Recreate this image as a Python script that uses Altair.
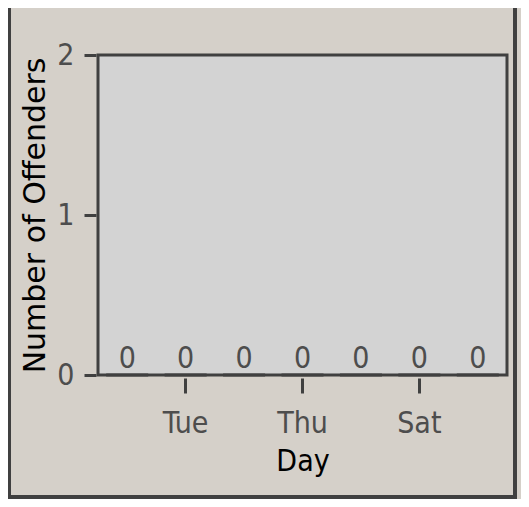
import altair as alt
import pandas as pd

days = ["Mon", "Tue", "Wed", "Thu", "Fri", "Sat", "Sun"]
offenders = [0, 0, 0, 0, 0, 0, 0]
x_tick_labels = ["Tue", "Thu", "Sat"]
y_max = 2

df = pd.DataFrame({"Day": days, "Offenders": offenders})

NARROW = "Liberation Sans Narrow, DejaVu Sans Condensed, sans-serif"
DARK = "#404040"
GREY_TXT = "#4d4d4d"

x_enc = alt.X(
    "Day:N",
    sort=days,
    scale=alt.Scale(paddingInner=0.28, paddingOuter=0.14),
    axis=alt.Axis(
        values=x_tick_labels,
        title="Day",
        labelAngle=0,
        domain=False,
        offset=3,
        tickSize=15,
        tickWidth=3,
        tickColor=DARK,
        labelFont=NARROW,
        labelFontSize=30,
        labelColor=GREY_TXT,
        labelPadding=15,
        titleFont=NARROW,
        titleFontSize=30,
        titleFontWeight="normal",
        titleColor="#000000",
        titlePadding=8,
    ),
)

y_enc = alt.Y(
    "Offenders:Q",
    scale=alt.Scale(domain=[0, y_max], nice=False),
    axis=alt.Axis(
        tickCount=2,
        format="d",
        title="Number of Offenders",
        grid=False,
        domain=False,
        offset=2,
        tickSize=12,
        tickWidth=3,
        tickColor=DARK,
        labelFont=NARROW,
        labelFontSize=30,
        labelColor=GREY_TXT,
        labelPadding=10,
        labelBaseline="middle",
        labelOverlap=False,
        titleFont="DejaVu Sans",
        titleFontSize=30,
        titleFontWeight="normal",
        titleColor="#000000",
        titlePadding=6,
    ),
)

bars = alt.Chart(df).mark_bar(
    size=42, color=DARK, stroke=DARK, strokeWidth=3
).encode(x=x_enc, y=y_enc)

labels = alt.Chart(df).mark_text(
    font=NARROW, fontSize=30, color=GREY_TXT, baseline="alphabetic", dy=-7
).encode(x=x_enc, y=y_enc, text="Offenders:Q")

frame_left = alt.Chart(df).mark_rule(color=DARK, strokeWidth=3, clip=False).encode(
    x=alt.value(-88.5), y=alt.value(-47), y2=alt.value(444)
)
frame_right = alt.Chart(df).mark_rule(color=DARK, strokeWidth=3, clip=False).encode(
    x=alt.value(417), y=alt.value(-47), y2=alt.value(444)
)
frame_bottom = alt.Chart(df).mark_rule(color=DARK, strokeWidth=4, clip=False).encode(
    x=alt.value(-90), x2=alt.value(418.5), y=alt.value(442)
)

chart = (
    alt.layer(bars, labels, frame_left, frame_right, frame_bottom)
    .properties(
        width=409,
        height=320,
        autosize=alt.AutoSizeParams(type="none"),
        padding={"left": 90, "top": 47, "right": 14, "bottom": 124},
        background="#d5d0c9",
    )
    .configure_view(fill="#d3d3d3", stroke=DARK, strokeWidth=3)
)

chart.save("out.html", embed_options={"renderer": "svg", "actions": False})
